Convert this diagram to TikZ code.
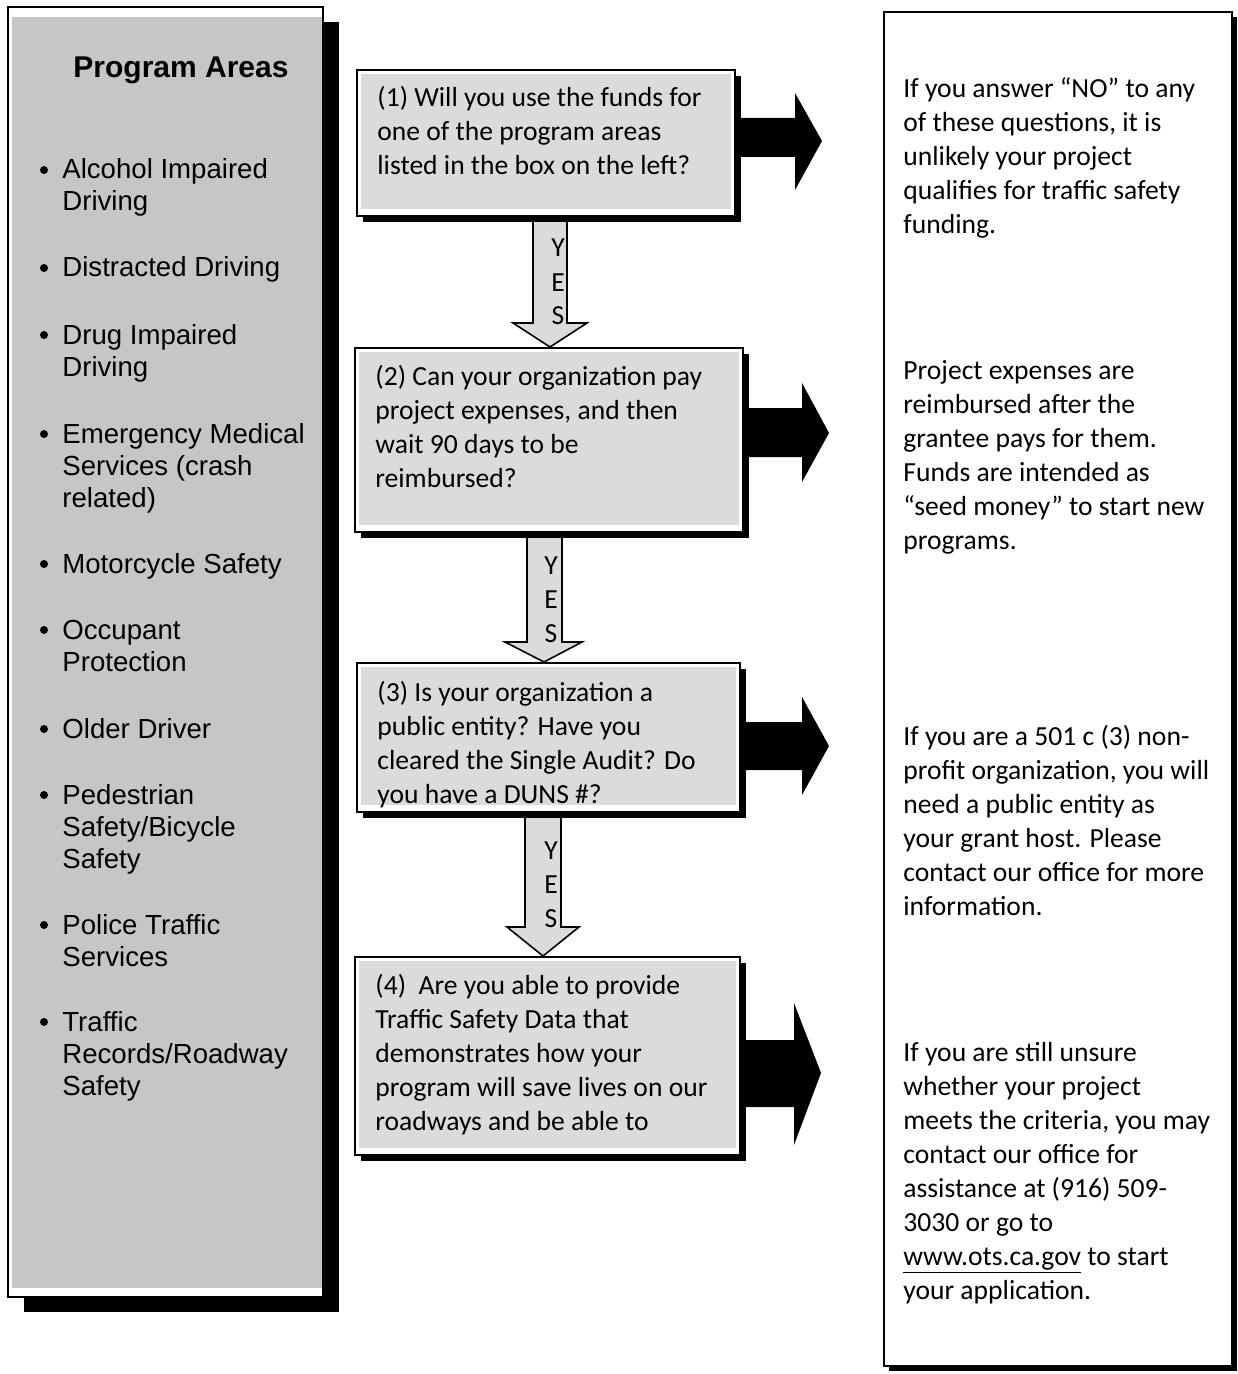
\documentclass[tikz,border=0pt]{standalone}
\usepackage{fontspec}
\setmainfont{Carlito}
\newfontfamily\arialfont{Liberation Sans}
\usetikzlibrary{fit,shadows,backgrounds}

\tikzset{
  panel/.style={draw, line width=1pt, fill=white, inner sep=0pt},
  qbox/.style={panel, drop shadow={shadow xshift=3pt, shadow yshift=-3pt, fill=black, opacity=1}},
  texture/.style={fill=gray!28},
  qtext/.style={anchor=base west, align=left, inner sep=0pt, font=\fontsize{13.8}{17}\selectfont},
  areaitem/.style={anchor=base west, align=left, inner sep=0pt, font=\arialfont\fontsize{13.8}{16}\selectfont},
  dot/.style={circle, fill, inner sep=0pt, minimum size=4pt},
  yesarrow/.style={draw, line width=0.8pt, fill=gray!28},
  yesword/.style={anchor=base, align=center, inner sep=0pt, font=\fontsize{13.8}{17}\selectfont},
  noarrow/.style={fill=black},
}

\begin{document}
\begin{tikzpicture}[x=0.5pt, y=-0.5pt]
  \useasboundingbox (0,0) rectangle (1237,1374);

  % program areas panel
  \node[panel, drop shadow={shadow xshift=8pt, shadow yshift=-7.5pt, fill=black, opacity=1},
    fit={(8,7) (323,1297)}] (areas) {};
  \fill[gray!45] (12,17) rectangle (322,1288);
  \node[anchor=base, inner sep=0pt, font=\arialfont\bfseries\fontsize{15}{18}\selectfont] (title) at (181,78) {Program Areas};
  % base anchor of a multi-line node sits on its last line
  \foreach \y/\n/\txt [count=\i] in {168/2/{Alcohol Impaired\\Driving}, 266/1/{Distracted Driving},
      333/2/{Drug Impaired\\Driving}, 432/3/{Emergency Medical\\Services (crash\\related)},
      562/1/{Motorcycle Safety}, 628/2/{Occupant\\Protection}, 727/1/{Older Driver},
      793/3/{Pedestrian\\Safety/Bicycle\\Safety}, 923/2/{Police Traffic\\Services},
      1020/3/{Traffic\\Records/Roadway\\Safety}} {
    \node[dot] (d\i) at (44,\y+2) {};
    \node[areaitem] (a\i) at (62,\y+11+32*\n-32) {\txt};
  }

  % question boxes
  \node[qbox, fit={(357,70) (735,216)}] (q1) {};
  \node[qbox, fit={(355,348) (743,532)}] (q2) {};
  \node[qbox, fit={(357,663) (740,812)}] (q3) {};
  \node[qbox, fit={(355,957) (740,1155)}] (q4) {};
  \foreach \q in {q1,q2,q3,q4}
    \fill[texture] ([shift={(5,5)}]\q.north west) rectangle ([shift={(-5,-8)}]\q.south east);

  \node[qtext] (t1) at (377,175) {(1) Will you use the funds for\\one of the program areas\\listed in the box on the left?};
  \node[qtext] (t2) at (375,487) {(2) Can your organization pay\\project expenses, and then\\wait 90 days to be\\reimbursed?};
  \node[qtext] (t3) at (377,803) {(3) Is your organization a\\public entity? Have you\\cleared the Single Audit? Do\\you have a DUNS \#?};
  \node[qtext] (t4) at (375,1130) {(4)\ \ Are you able to provide\\Traffic Safety Data that\\demonstrates how your\\program will save lives on our\\roadways and be able to};

  % yes arrows
  \begin{scope}[on background layer]
    \draw[yesarrow] (533,0 |- q1.south) -- (533,323) -- (513,323) -- (550,0 |- q2.north)
      -- (587,323) -- (567,323) -- (567,0 |- q1.south) -- cycle;
    \draw[yesarrow] (527,0 |- q2.south) -- (527,642) -- (505,642) -- (544,0 |- q3.north)
      -- (582,642) -- (562,642) -- (562,0 |- q2.south) -- cycle;
    \draw[yesarrow] (525,0 |- q3.south) -- (525,927) -- (507,927) -- (543,0 |- q4.north)
      -- (579,927) -- (561,927) -- (561,0 |- q3.south) -- cycle;
  \end{scope}
  \node[yesword] (y1) at (558,325) {Y\\E\\S};
  \node[yesword] (y2) at (551,642) {Y\\E\\S};
  \node[yesword] (y3) at (551,927) {Y\\E\\S};

  % no arrows
  \foreach \q/\bt/\bb/\ht/\hb/\hx/\tx/\ty in {q1/118/157/93/190/795/822/141,
      q2/408/457/383/482/802/829/433, q3/722/770/697/795/802/829/746,
      q4/1040/1107/1003/1145/794/821/1073}
    \fill[noarrow] (\q.east |- 0,\bt) -- (\hx,\bt) -- (\hx,\ht) -- (\tx,\ty)
      -- (\hx,\hb) -- (\hx,\bb) -- (\q.east |- 0,\bb) -- cycle;

  % notes panel
  \node[panel, drop shadow={shadow xshift=2.5pt, shadow yshift=-2.5pt, fill=black, opacity=1},
    fit={(884,12) (1232,1366)}] (notes) {};
  \node[qtext] (n1) at (903,234) {If you answer “NO” to any\\of these questions, it is\\unlikely your project\\qualifies for traffic safety\\funding.};
  \node[qtext] (n2) at (903,549) {Project expenses are\\reimbursed after the\\grantee pays for them.\\Funds are intended as\\“seed money” to start new\\programs.};
  \node[qtext] (n3) at (903,915) {If you are a 501 c (3) non-\\profit organization, you will\\need a public entity as\\your grant host. Please\\contact our office for more\\information.};
  \node[qtext] (n4) at (903,1299) {If you are still unsure\\whether your project\\meets the criteria, you may\\contact our office for\\assistance at (916) 509-\\3030 or go to\\\underline{www.ots.ca.gov} to start\\your application.};
\end{tikzpicture}
\end{document}
